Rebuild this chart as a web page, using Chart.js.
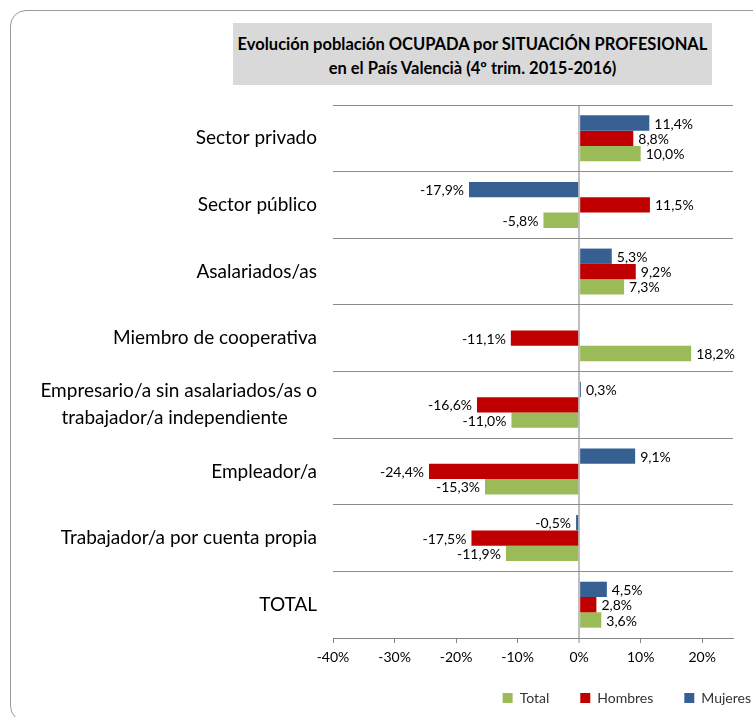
<!DOCTYPE html>
<html>
<head>
<meta charset="utf-8">
<script src="https://cdn.jsdelivr.net/npm/chart.js@4"></script>
<style>
  html, body { margin: 0; padding: 0; background: #fff; overflow: hidden; }
  #frame {
    position: absolute; left: 10px; top: 10px; width: 800px; height: 712px;
    border: 1px solid #9a9a9a; border-radius: 16px; box-sizing: border-box;
  }
  #title {
    position: absolute; left: 233px; top: 23px; width: 479px; height: 62px;
    background: #d9d9d9; font-family: Lato, sans-serif; font-weight: bold;
    font-size: 16.5px; line-height: 24px; text-align: center; color: #000;
    padding-top: 9px; box-sizing: border-box;
  }
  #wrap { position: absolute; left: 0; top: 0; width: 761px; height: 717px; }
</style>
</head>
<body>
<div id="frame"></div>
<div id="wrap"><canvas id="chart"></canvas></div>
<div id="title">Evolución población OCUPADA por SITUACIÓN PROFESIONAL<br>en el País Valencià (4º trim. 2015-2016)</div>
<script>
const nb = '\u00a0';
const gap = '\u2002\u2002\u2002';
const categories = [
    'Sector privado',
    'Sector público',
    'Asalariados/as',
    'Miembro de cooperativa',
    ['Empresario/a sin asalariados/as o', 'trabajador/a independiente' + nb.repeat(6)],
    'Empleador/a',
    'Trabajador/a por cuenta propia',
    'TOTAL'
];
const mujeres = [11.4, -17.9, 5.3, null, 0.3, 9.1, -0.5, 4.5];
const hombres = [8.8, 11.5, 9.2, -11.1, -16.6, -24.4, -17.5, 2.8];
const total = [10.0, -5.8, 7.3, 18.2, -11.0, -15.3, -11.9, 3.6];
const x_ticks = [-40, -30, -20, -10, 0, 10, 20];

function fmt_pct(v) {
    return v.toFixed(1).replace('.', ',') + '%';
}

// value labels at the end of each bar
const value_labels = {
    id: 'value_labels',
    afterDatasetsDraw(chart) {
        let ctx = chart.ctx;
        ctx.save();
        ctx.font = '14px Lato';
        ctx.fillStyle = '#000';
        ctx.textBaseline = 'middle';
        chart.data.datasets.forEach((ds, i) => {
            chart.getDatasetMeta(i).data.forEach((bar, j) => {
                let v = ds.data[j];
                if (v === null) return;
                let neg = v < 0;
                ctx.textAlign = neg ? 'right' : 'left';
                ctx.fillText(fmt_pct(v), bar.x + (neg ? -5 : 5), bar.y + 1);
            });
        });
        ctx.restore();
    }
};

Chart.defaults.font.family = 'Lato';
Chart.defaults.color = '#000';

let chart = new Chart(document.getElementById('chart'), {
    type: 'bar',
    data: {
        labels: categories,
        datasets: [
            { label: 'Mujeres', data: mujeres, backgroundColor: '#376092' },
            { label: 'Hombres', data: hombres, backgroundColor: '#c00000' },
            { label: 'Total', data: total, backgroundColor: '#9bbb59' }
        ]
    },
    options: {
        indexAxis: 'y',
        responsive: true,
        maintainAspectRatio: false,
        animation: false,
        categoryPercentage: 0.69,
        barPercentage: 1.0,
        layout: { padding: { top: 105, left: 0, right: 0, bottom: 2 } },
        scales: {
            x: {
                min: -40,
                max: 25,
                afterBuildTicks: (scale) => {
                    scale.ticks = x_ticks.map(v => ({ value: v }));
                },
                afterFit: (scale) => { scale.height = 43; },
                ticks: {
                    font: { size: 14 },
                    padding: 6,
                    callback: (v) => v + '%'
                },
                grid: {
                    color: (c) => c.tick && c.tick.value === 0 ? '#bfbfbf' : 'transparent',
                    lineWidth: (c) => c.tick && c.tick.value === 0 ? 2 : 1,
                    tickColor: '#868686',
                    tickWidth: 1,
                    tickLength: 5
                },
                border: { display: true, color: '#868686', width: 1 }
            },
            y: {
                afterFit: (scale) => { scale.width = 333; },
                ticks: {
                    font: { size: 19, lineHeight: 1.42 },
                    padding: 16
                },
                grid: {
                    offset: true,
                    color: '#8c8c8c',
                    drawTicks: false
                },
                border: { display: false }
            },
            pad_right: {
                type: 'linear',
                position: 'right',
                afterFit: (scale) => { scale.width = 28; },
                ticks: { display: false },
                grid: { display: false },
                border: { display: false }
            }
        },
        plugins: {
            legend: {
                position: 'bottom',
                align: 'end',
                reverse: true,
                labels: {
                    boxWidth: 10,
                    boxHeight: 10,
                    padding: 10,
                    color: '#333',
                    font: { size: 14 },
                    generateLabels: (chart) => {
                        let items = Chart.defaults.plugins.legend.labels.generateLabels(chart);
                        items.forEach(it => {
                            if (it.text !== 'Mujeres') it.text = it.text + gap;
                        });
                        return items;
                    }
                }
            },
            tooltip: { enabled: false }
        }
    },
    plugins: [value_labels]
});
</script>
</body>
</html>
